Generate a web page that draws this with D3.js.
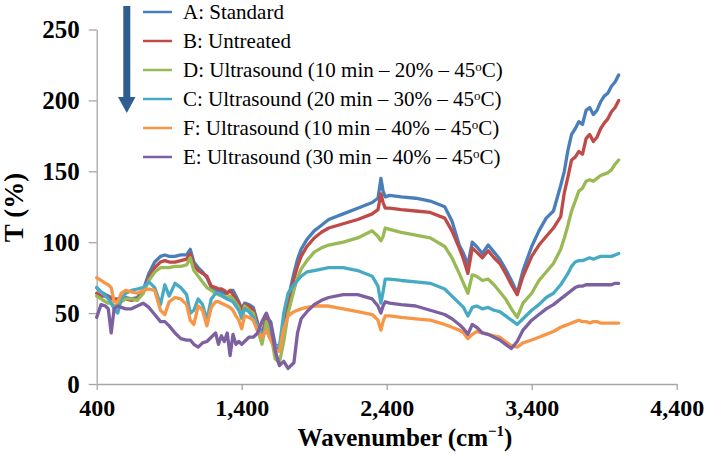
<!DOCTYPE html>
<html>
<head>
<meta charset="utf-8">
<script src="https://cdn.jsdelivr.net/npm/d3@7"></script>
<style>
  html, body { margin: 0; padding: 0; background: #ffffff; }
  svg { display: block; }
  svg text { font-family: "Times New Roman", "Liberation Serif", "DejaVu Serif", Times, serif; }
</style>
</head>
<body>
<svg id="chart" width="709" height="464"></svg>
<script>
// ---------- DATA ----------
const wavenumbers = [400,430,460,480,500,520,545,570,600,640,680,720,760,800,840,870,900,940,980,1020,1045,1070,1100,1130,1160,1190,1220,1240,1260,1280,1300,1320,1340,1360,1380,1400,1420,1450,1480,1510,1540,1570,1600,1630,1660,1690,1720,1760,1785,1810,1850,1900,1950,2000,2100,2200,2300,2340,2360,2375,2390,2420,2500,2600,2700,2800,2850,2900,2930,2960,2990,3020,3060,3100,3140,3180,3220,3260,3300,3340,3400,3450,3500,3550,3600,3625,3650,3675,3700,3725,3750,3775,3800,3825,3850,3875,3900,3925,3950,3975,4000];

const seriesA = [68,65,63,62,61,60,60,60,61,60,61,66,78,86,90,91,90,90,91,91,95,86,82,79,75,68,66,66,65,64,64,66,66,62,58,53,57,56,54,43,35,47,44,28,26,42,60,78,88,95,102,108,112,116,120,124,128,131,145,136,132,133,132,131,129,125,115,98,92,84,100,97,92,98,93,88,81,73,64,80,97,108,117,122,140,150,165,176,180,185,183,193,195,190,193,199,203,205,210,213,218];

const seriesB = [64,62,62,61,60,60,59,60,60,59,60,64,75,82,86,87,86,86,87,88,92,84,80,78,76,69,68,67,67,66,64,66,63,60,57,52,56,55,52,42,33,46,42,25,24,40,56,74,83,90,97,103,107,110,113,116,120,123,134,128,124,124,123,122,121,117,108,96,88,78,96,93,89,94,89,85,78,70,63,76,90,98,104,110,118,135,146,158,160,164,162,173,176,171,174,180,184,187,192,195,200];

const seriesD = [62,60,58,57,57,55,56,58,60,60,59,64,73,79,82,82,82,83,83,84,89,80,76,72,68,66,64,63,62,62,61,62,60,57,54,46,55,52,50,38,28,44,36,18,15,30,50,66,75,81,87,93,96,98,100,103,108,104,101,104,110,109,107,105,103,97,89,78,71,64,77,76,73,74,70,65,60,53,47,57,64,73,79,85,95,103,112,122,129,136,138,143,144,143,145,147,148,149,151,155,158];

const seriesC = [68,65,62,60,57,53,50,60,64,66,67,68,72,68,56,70,62,71,68,63,50,52,60,56,45,60,64,64,63,61,60,59,58,55,52,47,53,51,47,41,35,38,32,27,26,50,64,70,73,76,79,80,81,82,82,80,76,69,57,65,74,74,73,72,71,67,62,57,54,48,54,55,53,54,52,51,48,45,42,46,52,56,61,64,70,74,78,83,86,87,87,88,89,88,89,90,90,90,90,91,92];

const seriesF = [75,73,71,70,68,58,58,64,66,65,64,66,67,66,52,49,58,61,60,56,45,42,55,52,41,54,58,58,57,56,55,54,52,48,45,39,48,47,45,37,33,38,31,24,23,39,48,51,52,53,54,55,55,55,53,51,49,45,38,44,48,48,47,46,45,42,40,38,36,32,35,37,36,35,34,33,30,27,26,29,31,33,35,37,40,41,42,43,44,45,44,44,43,44,44,43,43,43,43,43,43];

const seriesE = [47,56,55,53,36,53,55,54,53,53,55,57,54,49,44,44,41,36,32,31,31,28,26,29,30,33,36,28,34,30,36,20,35,28,30,28,30,33,33,36,44,50,42,24,13,16,11,15,36,46,51,56,59,61,63,63,60,55,50,55,58,57,56,55,52,49,46,42,39,35,42,40,36,35,33,31,28,25,30,38,45,49,53,56,60,62,64,66,68,69,69,70,70,70,70,70,70,70,70,71,71];

const seriesNames = ["A: Standard", "B: Untreated", "D: Ultrasound (10 min \u2013 20% \u2013 45", "C: Ultrasound (20 min \u2013 30% \u2013 45", "F: Ultrasound (10 min \u2013 40% \u2013 45", "E: Ultrasound (30 min \u2013 40% \u2013 45"];
const seriesHasTemp = [false, false, true, true, true, true];
const seriesColors = ["#4a7ebb", "#be4b48", "#98b954", "#46aac5", "#f79646", "#7d60a0"];
const seriesValues = [seriesA, seriesB, seriesD, seriesC, seriesF, seriesE];

const xTicks = [400, 1400, 2400, 3400, 4400];
const yTicks = [0, 50, 100, 150, 200, 250];

// ---------- CHART ----------
const svg = d3.select("#chart");
const axisColor = "#a6a6a6";

const x = d3.scaleLinear().domain([400, 4400]).range([96.7, 676.7]);
const y = d3.scaleLinear().domain([0, 250]).range([384, 29.5]);

// Y axis
const yAxis = svg.append("g")
  .attr("transform", `translate(${x(400)},0)`)
  .call(d3.axisLeft(y).tickValues(yTicks).tickSize(8).tickSizeOuter(0).tickPadding(9));
yAxis.attr("font-family", null);
yAxis.select(".domain").attr("stroke", axisColor).attr("stroke-width", 1.3);
yAxis.selectAll(".tick line").attr("stroke", axisColor).attr("stroke-width", 1.3);
yAxis.selectAll(".tick text")
  .attr("font-weight", "bold").attr("font-size", "25px").attr("fill", "#000");

// X axis
const xAxis = svg.append("g")
  .attr("transform", `translate(0,${y(0)})`)
  .call(d3.axisBottom(x).tickValues(xTicks).tickSize(6).tickSizeOuter(0).tickPadding(9).tickFormat(d3.format(",")));
xAxis.attr("font-family", null);
xAxis.select(".domain").attr("stroke", axisColor).attr("stroke-width", 1.3);
xAxis.selectAll(".tick line").attr("stroke", axisColor).attr("stroke-width", 1.3);
xAxis.selectAll(".tick text")
  .attr("font-weight", "bold").attr("font-size", "24px").attr("fill", "#000");

// Lines
const line = d3.line()
  .x((d, i) => x(wavenumbers[i]))
  .y(d => y(d));

svg.append("g").selectAll("path.series")
  .data(seriesValues)
  .join("path")
  .attr("class", "series")
  .attr("d", d => line(d))
  .attr("fill", "none")
  .attr("stroke", (d, i) => seriesColors[i])
  .attr("stroke-width", 3.3)
  .attr("stroke-linejoin", "round")
  .attr("stroke-linecap", "round");

// Axis titles
const xt = svg.append("text")
  .attr("x", 405).attr("y", 446)
  .attr("text-anchor", "middle")
  .attr("font-weight", "bold").attr("font-size", "25px").attr("fill", "#000");
xt.append("tspan").text("Wavenumber (cm");
xt.append("tspan").attr("font-size", "15px").attr("dy", -10).text("\u22121");
xt.append("tspan").attr("dy", 10).text(")");

svg.append("text")
  .attr("transform", "translate(23,207.5) rotate(-90)")
  .attr("text-anchor", "middle")
  .attr("font-weight", "bold").attr("font-size", "27px").attr("fill", "#000")
  .text("T (%)");

// Legend
const legend = svg.append("g");
seriesNames.forEach((name, i) => {
  const ly = 12 + 29 * i;
  legend.append("line")
    .attr("x1", 143).attr("x2", 172).attr("y1", ly).attr("y2", ly)
    .attr("stroke", seriesColors[i]).attr("stroke-width", 2.5);
  const t = legend.append("text")
    .attr("x", 183).attr("y", ly + 7)
    .attr("font-size", "21px").attr("fill", "#000");
  t.append("tspan").text(name);
  if (seriesHasTemp[i]) {
    t.append("tspan").attr("font-size", "13px").attr("dy", -6).text("o");
    t.append("tspan").attr("dy", 6).text("C)");
  }
});

// Decorative arrow
const arrowColor = "#2f5d8f";
svg.append("rect").attr("x", 123.3).attr("y", 6).attr("width", 7).attr("height", 94).attr("fill", arrowColor);
svg.append("path").attr("d", "M118,97 L135.5,97 L126.8,113 Z").attr("fill", arrowColor);
</script>
</body>
</html>
